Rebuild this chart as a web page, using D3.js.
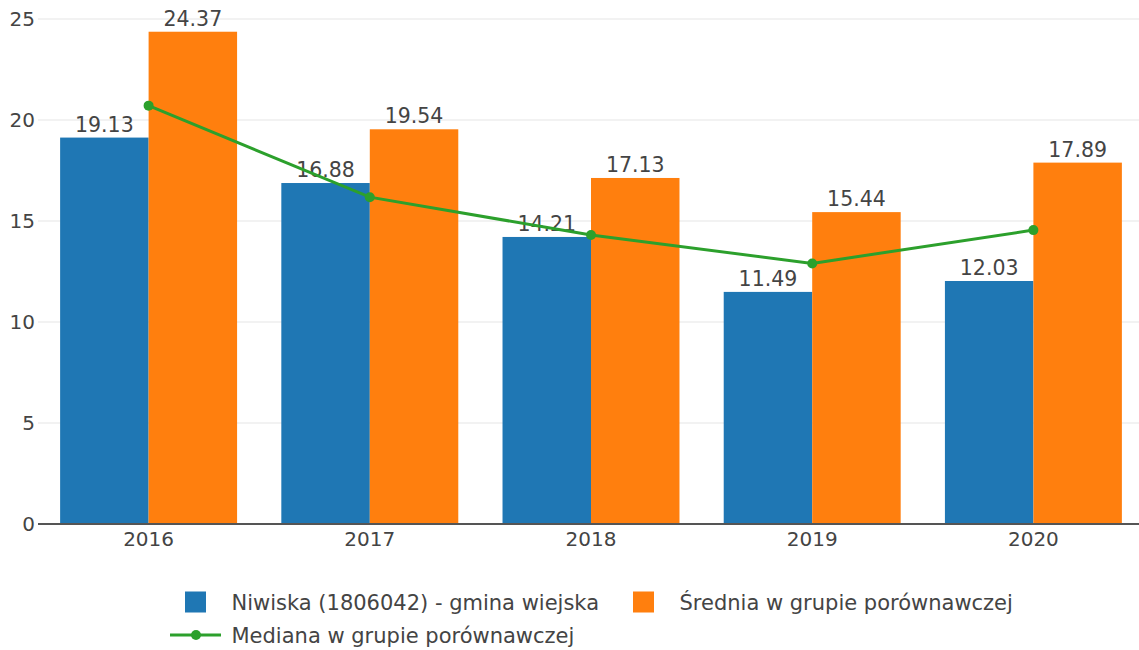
<!DOCTYPE html>
<html>
<head>
<meta charset="utf-8">
<script src="https://cdn.jsdelivr.net/npm/d3@7"></script>
<style>
  html, body { margin: 0; padding: 0; background: #fff; }
  svg { display: block; font-family: "DejaVu Sans", Verdana, sans-serif; }
</style>
</head>
<body>
<svg id="chart" width="1139" height="650"></svg>
<script>
// Chart data
const years = ["2016", "2017", "2018", "2019", "2020"];
const gminaValues = [19.13, 16.88, 14.21, 11.49, 12.03];
const averageValues = [24.37, 19.54, 17.13, 15.44, 17.89];
const medianValues = [20.71, 16.18, 14.31, 12.90, 14.55];
const yTicks = [0, 5, 10, 15, 20, 25];
const seriesNames = [
  "Niwiska (1806042) - gmina wiejska",
  "Średnia w grupie porównawczej",
  "Mediana w grupie porównawczej"
];

const colors = { gmina: "#1f77b4", average: "#ff7f0e", median: "#2ca02c" };
const textColor = "#444";
const fontSize = 20;

const svg = d3.select("#chart");

const plot = { left: 38, right: 1144, top: 19, bottom: 524 };

const x = d3.scaleBand().domain(years).range([plot.left, plot.right]).paddingInner(0.2).paddingOuter(0.1);
const inner = d3.scaleBand().domain(["gmina", "average"]).range([0, x.bandwidth()]);
const y = d3.scaleLinear().domain([0, 25]).range([plot.bottom, plot.top]);

// Horizontal gridlines
svg.append("g")
  .selectAll("line")
  .data(yTicks.filter(t => t !== 0))
  .join("line")
  .attr("x1", plot.left).attr("x2", 1139)
  .attr("y1", d => y(d)).attr("y2", d => y(d))
  .attr("stroke", "#eee").attr("stroke-width", 1.5);

// Y axis labels
const yAxis = d3.axisLeft(y).tickValues(yTicks).tickSize(0).tickPadding(3).tickFormat(d3.format("d"));
const yG = svg.append("g").attr("transform", `translate(${plot.left},0)`).call(yAxis);
yG.select(".domain").remove();
yG.selectAll("text").attr("fill", textColor).style("font-size", fontSize + "px").style("font-family", "DejaVu Sans, Verdana, sans-serif");

// Bars
const groups = svg.append("g").selectAll("g")
  .data(years.map((yr, i) => ({ yr, gmina: gminaValues[i], average: averageValues[i] })))
  .join("g")
  .attr("transform", d => `translate(${x(d.yr)},0)`);

groups.selectAll("rect")
  .data(d => ["gmina", "average"].map(k => ({ k, v: d[k] })))
  .join("rect")
  .attr("x", d => inner(d.k))
  .attr("width", inner.bandwidth())
  .attr("y", d => y(d.v))
  .attr("height", d => y(0) - y(d.v))
  .attr("fill", d => colors[d.k]);

// Zero line
svg.append("line")
  .attr("x1", plot.left).attr("x2", 1139)
  .attr("y1", y(0)).attr("y2", y(0))
  .attr("stroke", "#555").attr("stroke-width", 2);

// X axis labels
const xAxis = d3.axisBottom(x).tickSize(0).tickPadding(8);
const xG = svg.append("g").attr("transform", `translate(0,${plot.bottom})`).call(xAxis);
xG.select(".domain").remove();
xG.selectAll("text").attr("fill", textColor).style("font-size", fontSize + "px").style("font-family", "DejaVu Sans, Verdana, sans-serif");

// Median line with markers
const medianPts = years.map((yr, i) => ({ yr, v: medianValues[i] }));
const cx = d => x(d.yr) + x.bandwidth() / 2;
svg.append("path")
  .datum(medianPts)
  .attr("d", d3.line().x(cx).y(d => y(d.v)))
  .attr("fill", "none")
  .attr("stroke", colors.median)
  .attr("stroke-width", 3);
svg.append("g").selectAll("circle")
  .data(medianPts)
  .join("circle")
  .attr("cx", cx).attr("cy", d => y(d.v)).attr("r", 5)
  .attr("fill", colors.median);

// Value labels above bars
groups.selectAll("text.val")
  .data(d => ["gmina", "average"].map(k => ({ k, v: d[k] })))
  .join("text")
  .attr("class", "val")
  .attr("x", d => inner(d.k) + inner.bandwidth() / 2)
  .attr("y", d => y(d.v) - 6)
  .attr("text-anchor", "middle")
  .attr("fill", textColor)
  .style("font-size", "20.5px")
  .text(d => d3.format(".2f")(d.v));

// Legend
const legend = svg.append("g").style("font-size", "21px").attr("fill", textColor);
const legendItems = [
  { x: 185, y: 602, type: "rect", color: colors.gmina, name: seriesNames[0] },
  { x: 633, y: 602, type: "rect", color: colors.average, name: seriesNames[1] },
  { x: 185, y: 635, type: "line", color: colors.median, name: seriesNames[2] }
];
legendItems.forEach(item => {
  const g = legend.append("g").attr("transform", `translate(${item.x},${item.y})`);
  if (item.type === "rect") {
    g.append("rect").attr("x", 0).attr("y", -10.5).attr("width", 21).attr("height", 21).attr("fill", item.color);
  } else {
    g.append("line").attr("x1", -15).attr("x2", 36).attr("y1", 0).attr("y2", 0)
      .attr("stroke", item.color).attr("stroke-width", 3);
    g.append("circle").attr("cx", 11).attr("cy", 0).attr("r", 5).attr("fill", item.color);
  }
  g.append("text").attr("x", 46.5).attr("y", 0).attr("dy", "0.36em").text(item.name);
});
</script>
</body>
</html>
